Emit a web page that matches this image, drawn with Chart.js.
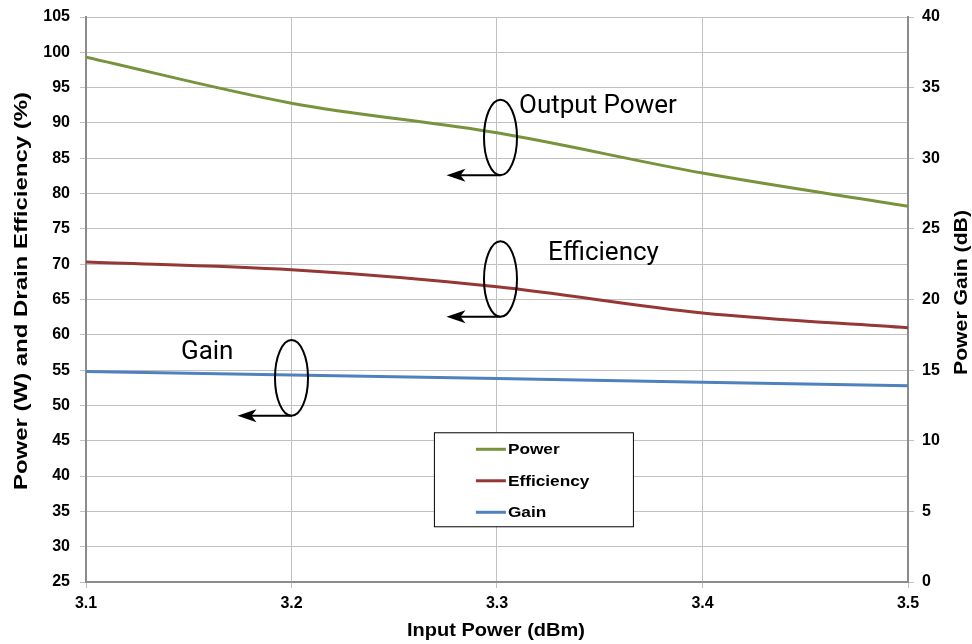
<!DOCTYPE html>
<html>
<head>
<meta charset="utf-8">
<script src="https://cdn.jsdelivr.net/npm/chart.js@4.4.0/dist/chart.umd.min.js"></script>
<style>
  html, body { margin: 0; padding: 0; background: #fff; }
  #wrap { width: 972px; height: 644px; position: relative; }
</style>
</head>
<body>
<div id="wrap"><canvas id="perfChart"></canvas></div>
<script>
// data
const inputPower = [3.1, 3.2, 3.3, 3.4, 3.5];
const outputPower = [99.3, 92.8, 88.6, 82.9, 78.2];
const efficiency = [70.3, 69.2, 66.8, 63.1, 61.0];
const gain = [14.9, 14.65, 14.4, 14.15, 13.9];

const leftTicks = [25, 105, 5];
const rightTicks = [0, 40, 5];

const seriesNames = ['Power', 'Efficiency', 'Gain'];
const seriesColors = ['#77933c', '#953735', '#4f81bd'];

const tickFont = { family: '"Liberation Sans", Arial, sans-serif', size: 16, weight: 'bold' };
const gridColor = '#c0c0c0';
const axisColor = '#8c8c8c';

const toPoints = (ys) => inputPower.map((x, i) => ({ x: x, y: ys[i] }));

// ellipse + arrow callouts, in data units (x, left-axis y)
const callouts = [
    { text: 'Output Power', x: 3.3017, y: 87.94, tx: 3.3107, ty: 91.4 },
    { text: 'Efficiency', x: 3.3017, y: 67.9, tx: 3.3248, ty: 70.6 },
    { text: 'Gain', x: 3.2, y: 53.9, tx: 3.1462, ty: 56.6 }
];

// draw text stretched to a given length
function fitText(c, text, x, y, len, rot) {
    const w = c.measureText(text).width;
    c.save();
    c.translate(x, y);
    c.rotate(rot || 0);
    c.scale(len / w, 1);
    c.fillText(text, 0, 0);
    c.restore();
}

const calloutPlugin = {
    id: 'callouts',
    afterDatasetsDraw(chart) {
        const c = chart.ctx;
        const xs = chart.scales.x, ys = chart.scales.y;
        c.save();
        c.strokeStyle = '#000';
        c.fillStyle = '#000';
        c.lineWidth = 2;
        callouts.forEach(o => {
            const cx = xs.getPixelForValue(o.x);
            const cy = ys.getPixelForValue(o.y);
            const rx = 16.5, ry = 37.8;
            c.beginPath();
            c.ellipse(cx, cy, rx, ry, 0, 0, Math.PI * 2);
            c.stroke();
            // arrow to the left
            const ay = cy + ry;
            const ax = cx - 54;
            c.beginPath();
            c.moveTo(cx, ay);
            c.lineTo(ax + 12, ay);
            c.stroke();
            c.beginPath();
            c.moveTo(ax, ay);
            c.lineTo(ax + 19, ay - 6.5);
            c.lineTo(ax + 14, ay);
            c.lineTo(ax + 19, ay + 6.5);
            c.closePath();
            c.fill();
            c.font = '26px Roboto, "Open Sans", sans-serif';
            c.textAlign = 'left';
            c.textBaseline = 'alphabetic';
            c.fillText(o.text, xs.getPixelForValue(o.tx), ys.getPixelForValue(o.ty));
        });

        // boxed legend
        const bx = xs.getPixelForValue(3.2693), by = ys.getPixelForValue(46.2);
        const bw = 199, bh = 94;
        c.fillStyle = '#fff';
        c.fillRect(bx, by, bw, bh);
        c.strokeStyle = '#000';
        c.lineWidth = 1;
        c.strokeRect(bx + 0.5, by + 0.5, bw, bh);
        c.font = 'bold 15px "Liberation Sans", Arial, sans-serif';
        c.textAlign = 'left';
        c.textBaseline = 'middle';
        seriesNames.forEach((name, i) => {
            const ly = by + 17 + i * 31.5;
            c.strokeStyle = seriesColors[i];
            c.lineWidth = 3;
            c.beginPath();
            c.moveTo(bx + 42, ly);
            c.lineTo(bx + 72, ly);
            c.stroke();
            c.fillStyle = '#000';
            const w = c.measureText(name).width;
            fitText(c, name, bx + 74, ly + 1, w * 1.15, 0);
        });
        c.restore();
    },
    afterDraw(chart) {
        // axis titles, stretched like the reference
        const c = chart.ctx;
        c.save();
        c.fillStyle = '#000';
        c.font = 'bold 18px "Liberation Sans", Arial, sans-serif';
        c.textAlign = 'center';
        c.textBaseline = 'middle';
        fitText(c, 'Input Power (dBm)', 496, 631, 178, 0);
        fitText(c, 'Power (W) and Drain Efficiency (%)', 22, 291, 398, -Math.PI / 2);
        fitText(c, 'Power Gain (dB)', 962, 292.5, 165, -Math.PI / 2);
        c.restore();
    }
};

const ctx = document.getElementById('perfChart').getContext('2d');
const perfChart = new Chart(ctx, {
    type: 'line',
    data: {
        datasets: [{
            label: seriesNames[0],
            data: toPoints(outputPower),
            borderColor: seriesColors[0],
            yAxisID: 'y'
        }, {
            label: seriesNames[1],
            data: toPoints(efficiency),
            borderColor: seriesColors[1],
            yAxisID: 'y'
        }, {
            label: seriesNames[2],
            data: toPoints(gain),
            borderColor: seriesColors[2],
            yAxisID: 'y2'
        }]
    },
    options: {
        responsive: true,
        maintainAspectRatio: false,
        animation: false,
        layout: { padding: { top: 17, right: 0, left: 0, bottom: 0 } },
        elements: {
            line: { borderWidth: 3, cubicInterpolationMode: 'monotone', fill: false },
            point: { radius: 0 }
        },
        plugins: {
            legend: { display: false },
            tooltip: { enabled: false }
        },
        scales: {
            x: {
                type: 'linear',
                min: inputPower[0],
                max: inputPower[inputPower.length - 1],
                afterFit: (s) => { s.height = 62; s.paddingLeft = 0; s.paddingRight = 0; },
                ticks: {
                    stepSize: 0.1,
                    color: '#000',
                    font: tickFont,
                    padding: 6,
                    callback: (v) => v.toFixed(1)
                },
                grid: { color: gridColor, tickLength: 6 },
                border: { color: axisColor, width: 2 }
            },
            y: {
                position: 'left',
                min: leftTicks[0],
                max: leftTicks[1],
                afterFit: (s) => { s.width = 86; s.paddingTop = 0; s.paddingBottom = 0; },
                ticks: { stepSize: leftTicks[2], color: '#000', font: tickFont, padding: 10 },
                grid: { color: gridColor, tickLength: 6 },
                border: { color: axisColor, width: 2 }
            },
            y2: {
                position: 'right',
                min: rightTicks[0],
                max: rightTicks[1],
                afterFit: (s) => { s.width = 64; s.paddingTop = 0; s.paddingBottom = 0; },
                ticks: { stepSize: rightTicks[2], color: '#000', font: tickFont, padding: 8 },
                grid: { drawOnChartArea: false, color: gridColor, tickLength: 6 },
                border: { color: axisColor, width: 2 }
            }
        }
    },
    plugins: [calloutPlugin]
});
</script>
</body>
</html>
